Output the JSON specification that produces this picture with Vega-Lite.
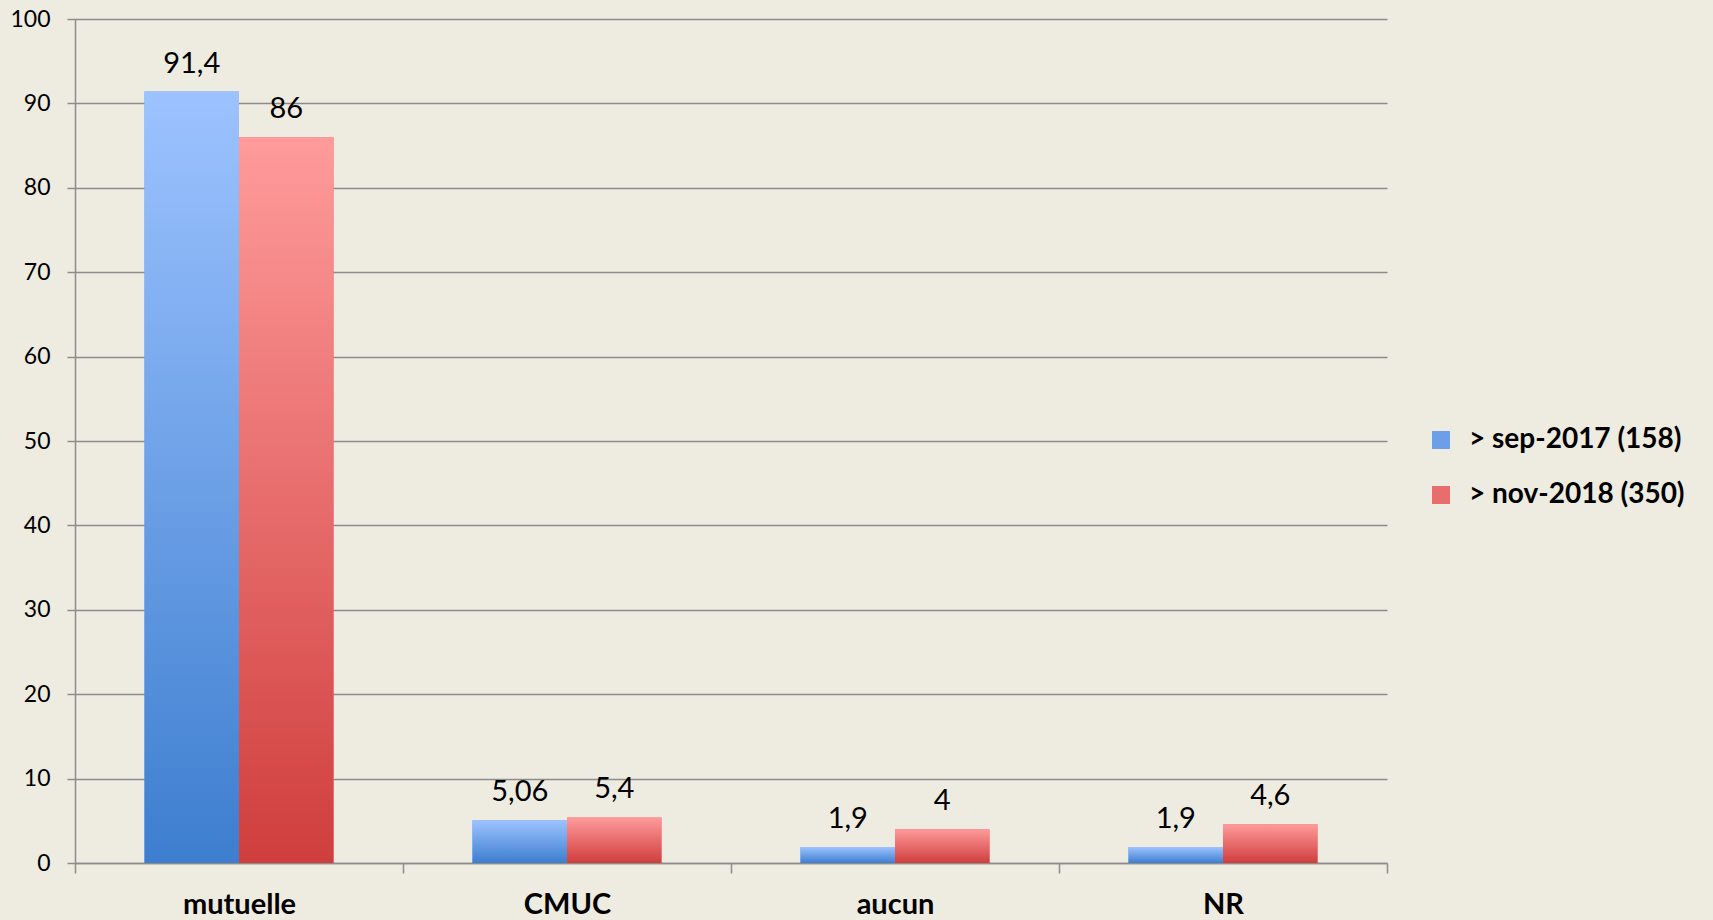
{
  "$schema": "https://vega.github.io/schema/vega-lite/v6.json",
  "autosize": "none",
  "width": 1312,
  "height": 844,
  "padding": {"left": 75, "top": 19, "right": 326, "bottom": 57},
  "background": "#EEEBE0",
  "config": {
    "view": {"stroke": null},
    "locale": {"number": {"decimal": ",", "thousands": " ", "grouping": [3], "currency": ["", " €"]}},
    "font": "Lato"
  },
  "data": {
    "values": [
      {"cat": "mutuelle", "series": "> sep-2017 (158)", "value": 91.4},
      {"cat": "mutuelle", "series": "> nov-2018 (350)", "value": 86},
      {"cat": "CMUC", "series": "> sep-2017 (158)", "value": 5.06},
      {"cat": "CMUC", "series": "> nov-2018 (350)", "value": 5.4},
      {"cat": "aucun", "series": "> sep-2017 (158)", "value": 1.9},
      {"cat": "aucun", "series": "> nov-2018 (350)", "value": 4},
      {"cat": "NR", "series": "> sep-2017 (158)", "value": 1.9},
      {"cat": "NR", "series": "> nov-2018 (350)", "value": 4.6}
    ]
  },
  "encoding": {
    "x": {
      "field": "cat", "type": "nominal",
      "sort": ["mutuelle", "CMUC", "aucun", "NR"],
      "scale": {"domain": ["mutuelle", "CMUC", "aucun", "NR"], "paddingInner": 0, "paddingOuter": 0},
      "axis": {
        "title": null, "labelAngle": 0, "labelFont": "Lato", "labelFontWeight": "bold",
        "labelFontSize": 29, "labelColor": "#000000", "tickBand": "extent", "tickSize": 10,
        "tickColor": "#8c8c8c", "tickWidth": 1.5, "domainColor": "#8c8c8c", "domainWidth": 1.5,
        "labelPadding": 17, "grid": false
      }
    },
    "xOffset": {
      "field": "series", "type": "nominal",
      "scale": {"domain": ["> sep-2017 (158)", "> nov-2018 (350)"], "paddingInner": 0, "paddingOuter": 0.735}
    },
    "y": {
      "field": "value", "type": "quantitative",
      "scale": {"domain": [0, 100], "nice": false},
      "axis": {
        "title": null, "values": [0, 10, 20, 30, 40, 50, 60, 70, 80, 90, 100],
        "labelFont": "Lato", "labelFontSize": 23, "labelColor": "#000000",
        "gridColor": "#8c8c8c", "gridWidth": 1.5, "tickColor": "#8c8c8c", "tickWidth": 1.5,
        "tickSize": 8, "domainColor": "#8c8c8c", "domainWidth": 1.5, "labelPadding": 17
      }
    }
  },
  "layer": [
    {
      "mark": {"type": "bar"},
      "encoding": {
        "color": {
          "field": "series", "type": "nominal",
          "scale": {
            "domain": ["> sep-2017 (158)", "> nov-2018 (350)"],
            "range": ["#6C9FE8", "#E86E6E"]
          },
          "legend": {
            "title": null, "orient": "none", "legendX": 1352, "legendY": 407,
            "symbolType": "square", "symbolSize": 324, "symbolStrokeWidth": 0, "symbolOpacity": 1,
            "labelFont": "Lato", "labelFontWeight": "bold", "labelFontSize": 28, "labelColor": "#000000",
            "labelOffset": 14, "rowPadding": 27, "labelLimit": 400
          }
        }
      }
    },
    {
      "transform": [{"filter": "datum.series === '> sep-2017 (158)'"}],
      "mark": {
        "type": "bar",
        "color": {"gradient": "linear", "x1": 0, "y1": 0, "x2": 0, "y2": 1, "stops": [{"offset": 0, "color": "#9DC3FF"}, {"offset": 1, "color": "#3D7ECF"}]}
      },
      "encoding": {}
    },
    {
      "transform": [{"filter": "datum.series === '> nov-2018 (350)'"}],
      "mark": {
        "type": "bar",
        "color": {"gradient": "linear", "x1": 0, "y1": 0, "x2": 0, "y2": 1, "stops": [{"offset": 0, "color": "#FF9B9B"}, {"offset": 1, "color": "#CF3E3D"}]}
      },
      "encoding": {}
    },
    {
      "mark": {"type": "text", "dy": -19, "baseline": "alphabetic", "fontSize": 29, "font": "Lato", "color": "#000000"},
      "encoding": {
        "text": {"field": "value", "type": "quantitative", "format": "~g"}
      }
    }
  ]
}
